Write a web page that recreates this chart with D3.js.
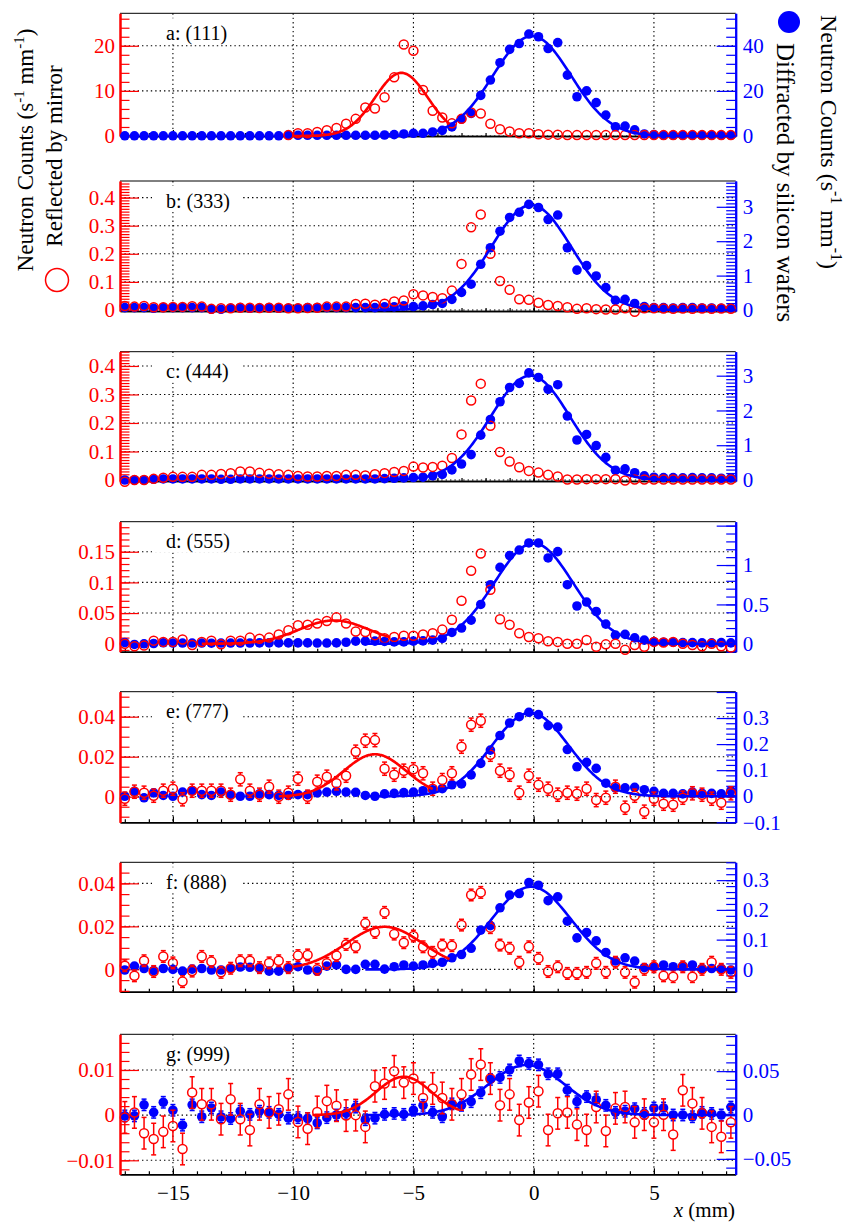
<!DOCTYPE html>
<html><head><meta charset="utf-8">
<script src="https://cdn.jsdelivr.net/npm/d3@7"></script>
<style>body{margin:0;background:#fff} svg{display:block} text{font-family:'Liberation Serif','Tinos','Times New Roman',Times,'DejaVu Serif',serif}</style>
</head><body><svg id="c" width="847" height="1222"></svg>
<script>
// ---------------- DATA ----------------
const binCenters = [-17.0,-16.6,-16.2,-15.8,-15.4,-15.0,-14.6,-14.2,-13.8,-13.4,-13.0,-12.6,-12.2,-11.8,-11.4,-11.0,-10.6,-10.2,-9.8,-9.4,-9.0,-8.6,-8.2,-7.8,-7.4,-7.0,-6.6,-6.2,-5.8,-5.4,-5.0,-4.6,-4.2,-3.8,-3.4,-3.0,-2.6,-2.2,-1.8,-1.4,-1.0,-0.6,-0.2,0.2,0.6,1.0,1.4,1.8,2.2,2.6,3.0,3.4,3.8,4.2,4.6,5.0,5.4,5.8,6.2,6.6,7.0,7.4,7.8,8.2];
const xDomain = [-17.2, 8.4];
const xMajorTicks = [-15,-10,-5,0,5];
const xMinorStep = 1;

const panelLabels = ["a: (111)","b: (333)","c: (444)","d: (555)","e: (777)","f: (888)","g: (999)"];

const blueA = [0.1,0.1,0.1,0.1,0.1,0.1,0.1,0.1,0.1,0.1, 0.1,0.1,0.1,0.1,0.1,0.1,0.1,0.3,0.3,0.3, 0.3,0.3,0.3,0.3,0.3,0.3,0.3,0.45,0.6,0.9, 1.2,1.2,1.8,2.5,4.0,7.5,10,18,24.8,32.5, 38.4,41,45.2,44,38.8,41.4,27,17.4,20,14.8, 9.3,4.1,4.4,2.7,0.9,0.6,0.3,0.3,0.3,0.3, 0.3,0.3,0.3,0.3];
const redA = [null,null,null,null,null,null,null,null,null,null, null,null,null,null,null,null,null,0.2,0.6,0.6, 0.9,1.3,1.8,2.7,3.8,6.3,6.1,8.6,13,20.3, 18.9,10.2,5.6,4.1,2.8,3.8,5.2,5.0,2.7,1.5, 1.0,0.6,0.6,0.4,0.3,0.3,0.2,0.2,0.2,0.2, 0.2,0.2,0.2,0.2,0.2,0.2,0.2,0.2,0.2,0.2, 0.2,0.2,0.2,0.2];

const blueB = [0.07,0.07,0.07,0.05,0.07,0.07,0.07,0.07,0.07,0.02, 0.02,0.05,0.07,0.05,0.05,0.07,0.05,0.05,0.05,0.07, 0.07,0.07,0.07,0.07,0.07,0.07,0.07,0.09,0.09,0.12, 0.1,0.12,0.16,0.19,0.31,0.51,0.75,1.33,1.81,2.29, 2.69,2.84,3.07,2.98,2.63,2.76,1.81,1.16,1.29,0.99, 0.65,0.28,0.31,0.19,0.1,0.07,0.07,0.06,0.07,0.07, 0.06,0.06,0.05,0.06];
const redB = [0.014,0.012,0.014,0.01,0.01,0.011,0.011,0.013,0.012,0.004, 0.006,0.006,0.008,0.008,0.007,0.008,0.008,0.006,0.006,0.007, 0.008,0.012,0.012,0.012,0.021,0.022,0.019,0.022,0.03,0.034, 0.056,0.052,0.046,0.042,0.069,0.164,0.294,0.34,0.2,0.103, 0.072,0.038,0.036,0.026,0.018,0.014,0.01,0.004,0.006,0.003, 0.002,0.002,0.006,-0.006,0.006,0.006,0.005,0.004,0.005,0.004, 0.005,0.004,0.005,0.004];

const blueC = [0.0,0.0,0.0,0.02,0.03,0.03,0.03,0.03,0.03,0.03, 0.02,0.02,0.03,0.03,0.03,0.03,0.03,0.03,0.03,0.03, 0.03,0.03,0.03,0.03,0.03,0.03,0.03,0.04,0.05,0.06, 0.07,0.08,0.12,0.16,0.29,0.46,0.73,1.29,1.74,2.25, 2.66,2.78,3.08,2.95,2.61,2.74,1.84,1.15,1.31,0.99, 0.65,0.28,0.32,0.21,0.12,0.08,0.07,0.07,0.06,0.07, 0.06,0.06,0.05,0.06];
const redC = [-0.006,0,0,0.004,0.008,0.011,0.011,0.011,0.018,0.018, 0.021,0.024,0.03,0.03,0.025,0.022,0.02,0.018,0.014,0.012, 0.012,0.014,0.014,0.018,0.018,0.016,0.02,0.024,0.028,0.032, 0.047,0.044,0.046,0.05,0.077,0.16,0.279,0.338,0.19,0.098, 0.065,0.045,0.032,0.026,0.018,0.012,0.002,0.002,0.003,0.003, 0.003,0.003,-0.002,0.002,0.002,0.002,0.002,0.002,0.002,0.002, 0.002,0.002,0.002,0.002];

const blueD = [0.017,-0.008,0,0.004,0.013,0.01,0.01,0.01,0.01,0.008, 0.01,0.01,0.01,0.01,0.012,0.012,0.012,0.012,0.012,0.012, 0.01,0.01,0.012,0.02,0.034,0.034,0.034,0.03,0.025,0.025, 0.034,0.038,0.047,0.068,0.144,0.2,0.3,0.5,0.75,0.97, 1.12,1.19,1.28,1.28,1.09,1.17,0.75,0.48,0.53,0.41, 0.25,0.11,0.12,0.076,0.047,0.025,0.02,0.02,0.015,0.015, 0.012,0.012,0.015,0.012];
const redD = [0,-0.004,-0.003,0.005,0.003,0.003,0.007,-0.002,0.003,0.005, -0.001,0.005,0.005,0.01,0.008,0.01,0.015,0.022,0.03,0.031, 0.033,0.037,0.043,0.033,0.02,0.019,0.014,0.009,0.011,0.013, 0.013,0.015,0.017,0.023,0.039,0.07,0.119,0.147,0.088,0.04, 0.031,0.017,0.011,0.009,0.004,0.003,0,0,0.006,-0.005, -0.001,0,-0.01,-0.002,-0.005,0.003,0.002,0.003,0,-0.002, -0.004,0,-0.004,-0.006];

const blueE = [0,0.019,-0.006,0.013,0.003,0,0.016,0.021,0.006,0.003, 0.016,0.006,0,0,0.009,0.006,0.003,0.003,0.006,0.006, 0.013,0.016,0.019,0.016,0.015,0.003,0,0.009,0.011,0.014, 0.016,0.021,0.025,0.029,0.044,0.047,0.082,0.126,0.177,0.233, 0.281,0.305,0.322,0.313,0.271,0.265,0.179,0.113,0.13,0.107, 0.05,0.032,0.032,0.034,0.025,0.019,0.011,0.011,0.009,0.016, 0.011,0.011,0.009,0.021];
const redE = [-0.001,0.0025,0.002,0.0005,0.003,0.004,-0.0013,0.003,0.003,0.003, 0.003,0.001,0.0087,0.003,0.001,0.005,0,0.002,0.009,0, 0.0075,0.01,0.0067,0.0105,0.0225,0.028,0.0283,0.014,0.011,0.013, 0.0137,0.0117,0.004,0.0083,0.0117,0.025,0.036,0.038,0.021,0.013, 0.011,0.002,0.0105,0.006,0.004,0.001,0.002,0.0015,0.004,-0.0017, -0.0005,0.005,-0.0055,0.0005,-0.0075,-0.001,-0.0035,-0.004,-0.0005,0.0017, 0.001,-0.001,-0.003,0.0017];

const blueF = [-0.002,0.011,0.003,-0.004,0.003,0,-0.006,0.001,0.003,-0.002, -0.002,0.003,0.008,0.007,0.003,-0.006,-0.006,0.003,0.009,-0.002, -0.006,0.011,0.015,0,0,0.017,0.017,0.001,0.009,0.015, 0.011,0.015,0.02,0.024,0.039,0.05,0.071,0.132,0.147,0.207, 0.25,0.255,0.292,0.283,0.231,0.244,0.162,0.106,0.124,0.096, 0.057,0.028,0.039,0.028,0.006,0.009,0.015,0.009,0.012,0.015, 0.003,0.003,0.003,-0.002];
const redF = [0.0017,-0.003,0.004,-0.001,0.006,0.003,-0.0057,-0.0008,0.006,0.0036, -0.0014,0.0005,0.004,0.004,0.0008,0.003,0.004,0.0008,0.0064,0.0067, 0,0.0028,0.0064,0.0116,0.0105,0.0214,0.0172,0.0265,0.0164,0.0124, 0.0155,0.0105,0.0079,0.0113,0.011,0.0206,0.0346,0.0358,0.0194,0.0113, 0.0098,0.0033,0.0105,0.0051,-0.001,0.0012,-0.0019,-0.0019,-0.0014,0.0028, -0.0014,0.0033,-0.0014,-0.006,0,0.0012,-0.003,-0.0034,0.0012,-0.0034, 0,0.0033,0,-0.0014];

const blueG = [-0.001,-0.001,0.0116,0.003,0.0145,0.0054,-0.0116,0.0116,-0.002,0.008, -0.002,-0.004,0.0043,0.0007,0.0043,0.003,0.0007,-0.0036,-0.003,-0.004, -0.009,-0.003,0,0.0018,0.009,-0.0054,-0.0036,0.0007,0.0018,0.0007, 0.0054,0.011,0.003,-0.002,0.0127,0.011,0.0152,0.0254,0.0406,0.0428, 0.0514,0.0616,0.0587,0.0572,0.047,0.047,0.0283,0.0152,0.021,0.0174, 0.011,0.003,0.0043,0.0072,0.0018,0.008,0.008,0,0,-0.002, 0.003,0.0018,0,0.009];
const redG = [-0.0005,0.0006,-0.004,-0.0053,-0.0037,-0.0024,-0.0075,0.005,0.0024,0.0024, -0.0009,0.0035,-0.0009,-0.0033,0.0024,0.0006,0.0013,0.0046,-0.0015,-0.003, 0.0007,0.0031,0.0021,-0.0001,0.0,-0.0026,0.0064,0.007,0.0097,0.0072, 0.0081,0.0038,0.0059,0.0038,0.0024,0.0046,0.009,0.0112,0.0081,0.0022, 0.0046,-0.0011,0.0028,0.0053,-0.0033,0.0004,0.0006,-0.0021,-0.0033,0.0018, -0.0035,0.0015,0.0018,-0.0016,0.0001,-0.0016,0.0001,-0.0043,0.0055,0.0026, 0.0004,-0.0026,-0.0048,-0.0016];

const blueSeries = [blueA, blueB, blueC, blueD, blueE, blueF, blueG];
const redSeries  = [redA, redB, redC, redD, redE, redF, redG];
// statistical error (same for every bin of a panel), in axis units
const redErr  = [0, 0, 0, 0, 0.0033, 0.0027, 0.0035];
const blueErr = [0, 0, 0, 0, 0, 0, 0.0065];

// axis ranges (left = reflected, right = diffracted)
const redDomains  = [[0,27.2],[-0.0036,0.459],[-0.0035,0.45],[-0.013,0.199],[-0.0128,0.0525],[-0.0104,0.0498],[-0.0131,0.0179]];
const blueDomains = [[0,54.4],[-0.029,3.75],[-0.029,3.69],[-0.10,1.55],[-0.10,0.401],[-0.075,0.36],[-0.0676,0.092]];
const redTickSteps  = [[10,2],[0.1,0.01],[0.1,0.01],[0.05,0.01],[0.02,0.005],[0.02,0.005],[0.01,0.002]];
const blueTickSteps = [[20,4],[1,0.1],[1,0.1],[0.5,0.1],[0.1,0.02],[0.1,0.02],[0.05,0.01]];

// Gaussian fit parameters: [amplitude, mean, sigma, xmin, xmax]
const blueFits = [[44.3,-0.07,1.62,-7,8.4],[3.05,-0.1,1.65,-7,8.4],[3.0,-0.14,1.65,-7,8.4],[1.275,0.0,1.64,-7,8.4],[0.32,-0.14,1.6,-7,8.4],[0.278,-0.1,1.65,-7,8.4],[0.057,-0.3,1.6,-7,8.4]];
const redFits  = [[14.0,-5.5,1.1,-10,-3.5], null, null, [0.038,-8.3,1.45,-13.8,-6.0],[0.0212,-6.6,1.3,-10.6,-4.2],[0.0198,-6.2,1.6,-10,-3.5],[0.0085,-5.4,1.15,-9.2,-3.1]];

const leftTitle = "Neutron Counts (s";
const rightTitle = "Neutron Counts (s";
const redLegend = "Reflected by mirror";
const blueLegend = "Diffracted by silicon wafers";

// ---------------- LAYOUT ----------------
const RED = "#ff0000", BLUE = "#0000ff";
const X0 = 120, X1 = 735.7;
const panelBox = [[13.3,136],[181,311],[351.7,481],[521.7,651.7],[691.7,822.3],[862.3,991.7],[1034.3,1174.3]];
const FONT = "'Liberation Serif','Tinos','Times New Roman',Times,'DejaVu Serif',serif";

const svg = d3.select("#c");
svg.append("rect").attr("width",847).attr("height",1222).attr("fill","#fff");
const x = d3.scaleLinear().domain(xDomain).range([X0, X1]);

function ticksFor(dom, step){
  const a = Math.ceil(dom[0]/step - 1e-6), b = Math.floor(dom[1]/step + 1e-6);
  return d3.range(a, b+1).map(n => +(n*step).toFixed(6));
}
function fmt(v){
  if (Math.abs(v) < 1e-9) return "0";
  return String(+v.toFixed(6)).replace("-", "\u2212");
}
function styleAxis(g, color, fs){
  g.attr("font-family", FONT).attr("font-size", fs);
  g.selectAll("text").attr("fill", color).style("font-family", FONT);
  g.selectAll(".tick line").attr("stroke", color).attr("stroke-width", 1.2);
}

panelBox.forEach(([top, bot], k) => {
  const yR = d3.scaleLinear().domain(redDomains[k]).range([bot, top]);
  const yB = d3.scaleLinear().domain(blueDomains[k]).range([bot, top]);
  const g = svg.append("g");

  // grid
  const grid = g.append("g").attr("stroke","#000").attr("stroke-width",1.1).attr("stroke-dasharray","1.4 3");
  xMajorTicks.forEach(t => grid.append("line").attr("x1",x(t)).attr("x2",x(t)).attr("y1",top).attr("y2",bot));
  ticksFor(redDomains[k], redTickSteps[k][0]).forEach(t =>
    grid.append("line").attr("x1",X0).attr("x2",X1).attr("y1",yR(t)).attr("y2",yR(t)));

  // label with white box
  g.append("rect").attr("x",152).attr("y",top+5).attr("width",91).attr("height",26).attr("fill","#fff");
  g.append("text").attr("x",166).attr("y",top+19.5).attr("dominant-baseline","central")
    .attr("font-size",20).attr("fill","#000").style("font-family", FONT).text(panelLabels[k]);

  // frame top
  g.append("line").attr("x1",X0).attr("x2",X1).attr("y1",top).attr("y2",top).attr("stroke","#000").attr("stroke-width",1);

  // bottom axis
  const gx = g.append("g").attr("transform",`translate(0,${bot})`);
  gx.call(d3.axisBottom(x).tickValues(ticksFor(xDomain, xMinorStep)).tickSizeInner(-3).tickSizeOuter(0).tickFormat(""));
  const gxM = g.append("g").attr("transform",`translate(0,${bot})`);
  gxM.call(d3.axisBottom(x).tickValues(xMajorTicks).tickSizeInner(-6).tickSizeOuter(0).tickPadding(11)
    .tickFormat(k === 6 ? fmt : ""));
  [gx, gxM].forEach(a => { styleAxis(a, "#000", 21); a.select(".domain").attr("stroke","#000").attr("stroke-width",1.6); });

  // label filter: skip labels that would sit on the very top edge
  const edgeFmt = (ys) => (v) => (ys(v) - top < 6 ? "" : fmt(v));

  // left (red) axis
  const gl = g.append("g").attr("transform",`translate(${X0},0)`);
  gl.call(d3.axisLeft(yR).tickValues(ticksFor(redDomains[k], redTickSteps[k][1])).tickSizeInner(-9.5).tickSizeOuter(0).tickFormat(""));
  const glM = g.append("g").attr("transform",`translate(${X0},0)`);
  glM.call(d3.axisLeft(yR).tickValues(ticksFor(redDomains[k], redTickSteps[k][0])).tickSizeInner(-19).tickSizeOuter(0).tickPadding(5).tickFormat(edgeFmt(yR)));
  [gl, glM].forEach(a => { styleAxis(a, RED, 21); a.select(".domain").attr("stroke",RED).attr("stroke-width",2); });

  // right (blue) axis
  const gr = g.append("g").attr("transform",`translate(${X1},0)`);
  gr.call(d3.axisRight(yB).tickValues(ticksFor(blueDomains[k], blueTickSteps[k][1])).tickSizeInner(-9.5).tickSizeOuter(0).tickFormat(""));
  const grM = g.append("g").attr("transform",`translate(${X1},0)`);
  grM.call(d3.axisRight(yB).tickValues(ticksFor(blueDomains[k], blueTickSteps[k][0])).tickSizeInner(-19).tickSizeOuter(0).tickPadding(7).tickFormat(edgeFmt(yB)));
  [gr, grM].forEach(a => { styleAxis(a, BLUE, 21); a.select(".domain").attr("stroke",BLUE).attr("stroke-width",2); });

  // blue points (diffracted)
  const rB = 4.8, rR = 4.5;
  const bData = blueSeries[k].map((v,i) => ({x: binCenters[i], v})).filter(d => d.v !== null);
  if (blueErr[k] > 0) {
    const eb = g.append("g").attr("stroke",BLUE).attr("stroke-width",1.5);
    bData.forEach(d => {
      const cy = yB(d.v), yt = yB(d.v + blueErr[k]), yb = yB(d.v - blueErr[k]), cx = x(d.x);
      if (cy - yt > rB) {
        eb.append("line").attr("x1",cx).attr("x2",cx).attr("y1",yt).attr("y2",cy-rB);
        eb.append("line").attr("x1",cx).attr("x2",cx).attr("y1",cy+rB).attr("y2",yb);
        eb.append("line").attr("x1",cx-2.5).attr("x2",cx+2.5).attr("y1",yt).attr("y2",yt);
        eb.append("line").attr("x1",cx-2.5).attr("x2",cx+2.5).attr("y1",yb).attr("y2",yb);
      }
    });
  }
  g.append("g").selectAll("circle").data(bData).join("circle")
    .attr("cx", d => x(d.x)).attr("cy", d => yB(d.v)).attr("r", rB).attr("fill", BLUE);

  // red points (reflected)
  const rData = redSeries[k].map((v,i) => ({x: binCenters[i], v})).filter(d => d.v !== null);
  if (redErr[k] > 0) {
    const er = g.append("g").attr("stroke",RED).attr("stroke-width",1.5);
    rData.forEach(d => {
      const cy = yR(d.v), yt = yR(d.v + redErr[k]), yb = yR(d.v - redErr[k]), cx = x(d.x);
      if (cy - yt > rR) {
        er.append("line").attr("x1",cx).attr("x2",cx).attr("y1",yt).attr("y2",cy-rR);
        er.append("line").attr("x1",cx).attr("x2",cx).attr("y1",cy+rR).attr("y2",yb);
        er.append("line").attr("x1",cx-2.5).attr("x2",cx+2.5).attr("y1",yt).attr("y2",yt);
        er.append("line").attr("x1",cx-2.5).attr("x2",cx+2.5).attr("y1",yb).attr("y2",yb);
      }
    });
  }
  g.append("g").selectAll("circle").data(rData).join("circle")
    .attr("cx", d => x(d.x)).attr("cy", d => yR(d.v)).attr("r", rR)
    .attr("fill", "none").attr("stroke", RED).attr("stroke-width", 1.5);

  // fits
  const gauss = (p, t) => p[0] * Math.exp(-0.5 * Math.pow((t - p[1]) / p[2], 2));
  const drawFit = (p, ys, color) => {
    const pts = d3.range(0, 201).map(j => p[3] + (p[4] - p[3]) * j / 200);
    g.append("path").attr("d", d3.line().x(t => x(t)).y(t => ys(gauss(p, t)))(pts))
      .attr("fill","none").attr("stroke",color).attr("stroke-width",2.6);
  };
  drawFit(blueFits[k], yB, BLUE);
  if (redFits[k]) drawFit(redFits[k], yR, RED);
});

// x axis title
const xt = svg.append("text").attr("x",735).attr("y",1217).attr("text-anchor","end").attr("font-size",21).attr("fill","#000").style("font-family", FONT);
xt.append("tspan").attr("font-style","italic").text("x");
xt.append("tspan").text(" (mm)");

// titles with superscripts
function unitTitle(sel, base, fs){
  const s = Math.round(fs * 0.65), d = Math.round(fs * 0.4);
  sel.append("tspan").text(base);
  sel.append("tspan").attr("dy",-d).attr("font-size",s).text("-1");
  sel.append("tspan").attr("dy",d).text(" mm");
  sel.append("tspan").attr("dy",-d).attr("font-size",s).text("-1");
  sel.append("tspan").attr("dy",d).text(")");
}
const lt = svg.append("text").attr("transform","translate(33,150) rotate(-90)").attr("text-anchor","middle")
  .attr("font-size",23).attr("fill","#000").style("font-family", FONT);
unitTitle(lt, leftTitle, 23);
svg.append("text").attr("transform","translate(62,156) rotate(-90)").attr("text-anchor","middle")
  .attr("font-size",23).attr("fill","#000").style("font-family", FONT).text(redLegend);
svg.append("circle").attr("cx",57).attr("cy",280).attr("r",11.5).attr("fill","none").attr("stroke",RED).attr("stroke-width",1.5);

const rt = svg.append("text").attr("transform","translate(821,15) rotate(90)").attr("text-anchor","start")
  .attr("font-size",24).attr("fill","#000").style("font-family", FONT);
unitTitle(rt, rightTitle, 24);
svg.append("text").attr("transform","translate(777,43) rotate(90)").attr("text-anchor","start")
  .attr("font-size",25).attr("fill","#000").style("font-family", FONT).text(blueLegend);
svg.append("circle").attr("cx",789).attr("cy",22).attr("r",11).attr("fill",BLUE);
</script>
</body></html>
